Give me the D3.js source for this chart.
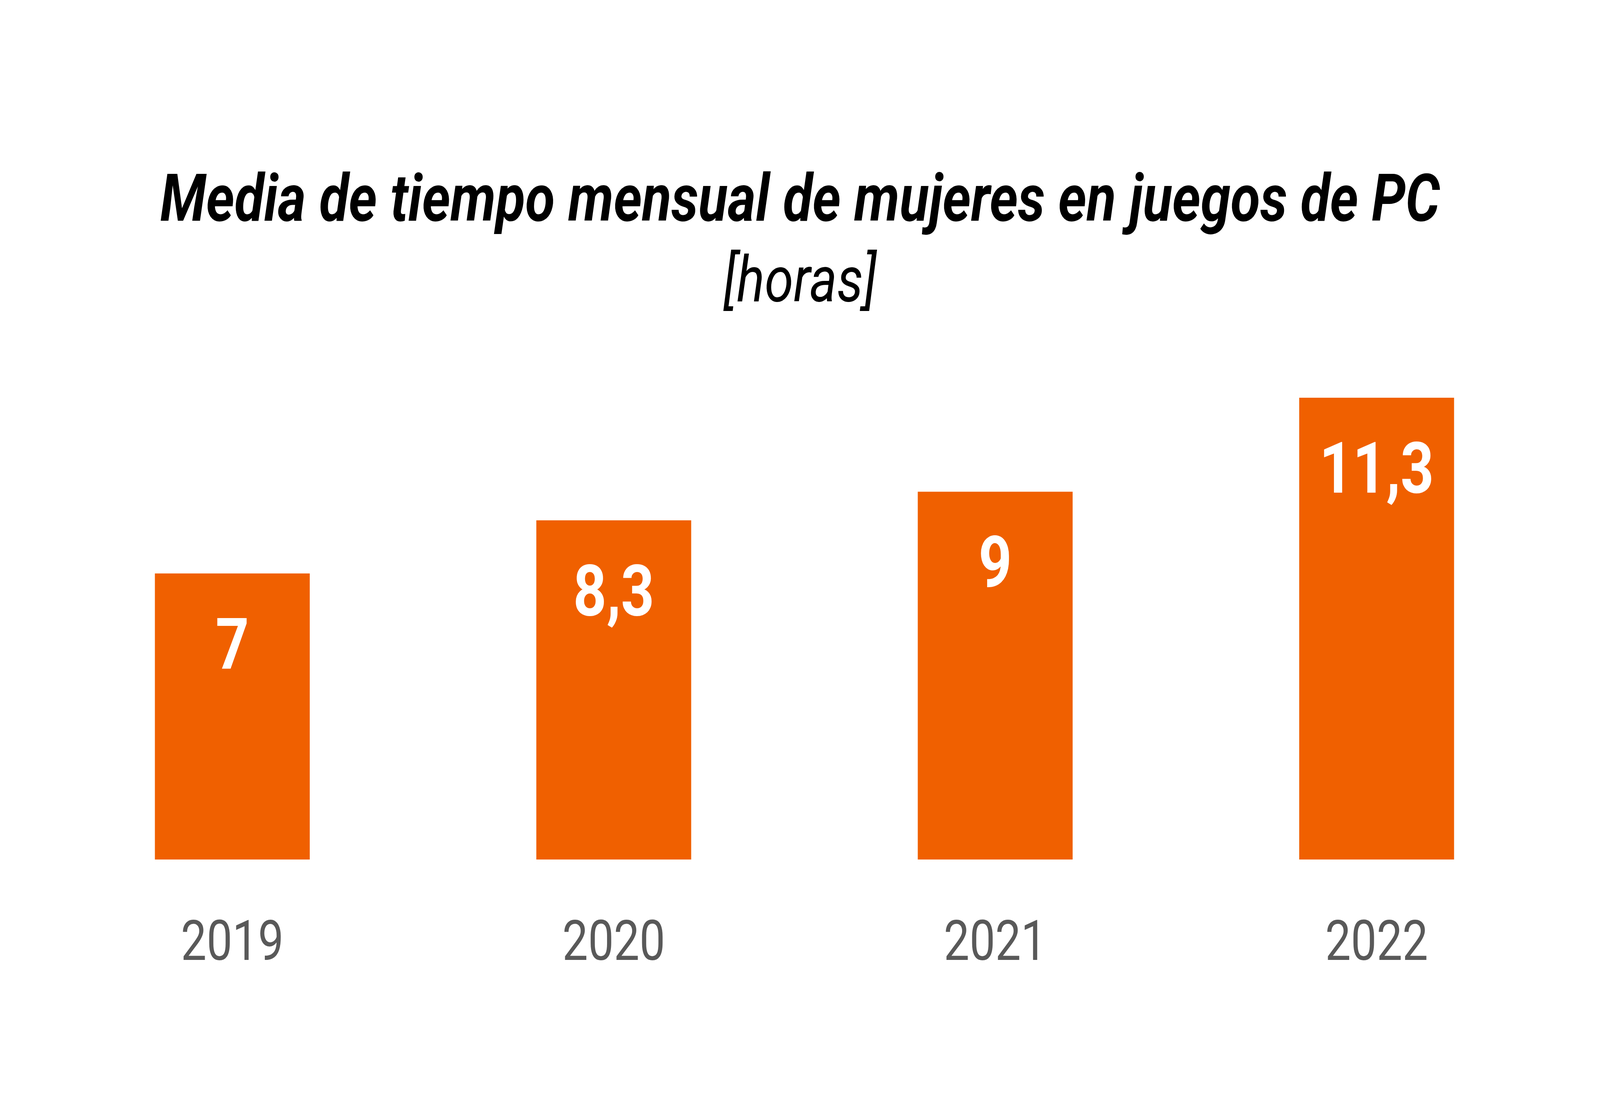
<!DOCTYPE html>
<html>
<head>
<meta charset="utf-8">
<script src="https://cdn.jsdelivr.net/npm/d3@7"></script>
<style>
  html, body { margin: 0; padding: 0; background: #fff; overflow: hidden; }
  svg { display: block; font-family: Roboto, "Noto Sans", sans-serif; }
</style>
</head>
<body>
<script>
// * data
var years = ['2019', '2020', '2021', '2022'];
var hours = [7, 8.3, 9, 11.3];
var labels = ['7', '8,3', '9', '11,3'];

var W = 5000, H = 2813;
var orange = '#f06000';

// drawn in a 5000x2813 frame and stretched to whatever the window gives
var svg = d3.select('body').append('svg')
  .style('width', '100vw')
  .style('height', '100vh')
  .attr('viewBox', '0 0 ' + W + ' ' + H)
  .attr('preserveAspectRatio', 'none');

// band scale: bars ~484px wide, one step ~1192px
var x = d3.scaleBand()
  .domain(years)
  .range([130, 4898])
  .paddingInner(0.594)
  .paddingOuter(0.297);

var y = d3.scaleLinear()
  .domain([0, 11.3])
  .range([2200, 1018]);

// title
svg.append('text')
  .attr('x', W / 2)
  .attr('y', 565)
  .attr('text-anchor', 'middle')
  .attr('font-size', 169)
  .attr('font-weight', 700)
  .attr('font-style', 'italic')
  .attr('fill', '#000')
  .text('Media de tiempo mensual de mujeres en juegos de PC');

svg.append('text')
  .attr('x', W / 2)
  .attr('y', 771)
  .attr('text-anchor', 'middle')
  .attr('font-size', 163)
  .attr('font-style', 'italic')
  .attr('fill', '#000')
  .text('[horas]');

var data = years.map(function (d, i) { return { year: d, v: hours[i], label: labels[i] }; });

var bars = svg.append('g').attr('class', 'bars');

bars.selectAll('rect')
  .data(data)
  .join('rect')
  .attr('x', function (d) { return x(d.year); })
  .attr('y', function (d) { return y(d.v); })
  .attr('width', x.bandwidth())
  .attr('height', function (d) { return y(0) - y(d.v); })
  .attr('fill', orange);

bars.selectAll('text')
  .data(data)
  .join('text')
  .attr('x', function (d) { return x(d.year) + x.bandwidth() / 2; })
  .attr('y', function (d) { return y(d.v) + 243; })
  .attr('text-anchor', 'middle')
  .attr('font-size', 182)
  .attr('font-weight', 700)
  .attr('fill', '#fff')
  .text(function (d) { return d.label; });

// x axis, no line or ticks, only the year labels
var xAxis = svg.append('g')
  .attr('transform', 'translate(0,' + y(0) + ')')
  .call(d3.axisBottom(x).tickSize(0).tickPadding(257));

xAxis.select('.domain').remove();
xAxis.selectAll('text')
  .attr('font-family', 'Roboto, sans-serif')
  .attr('font-size', 143)
  .attr('fill', '#595959')
  .attr('dy', 0);
</script>
</body>
</html>
